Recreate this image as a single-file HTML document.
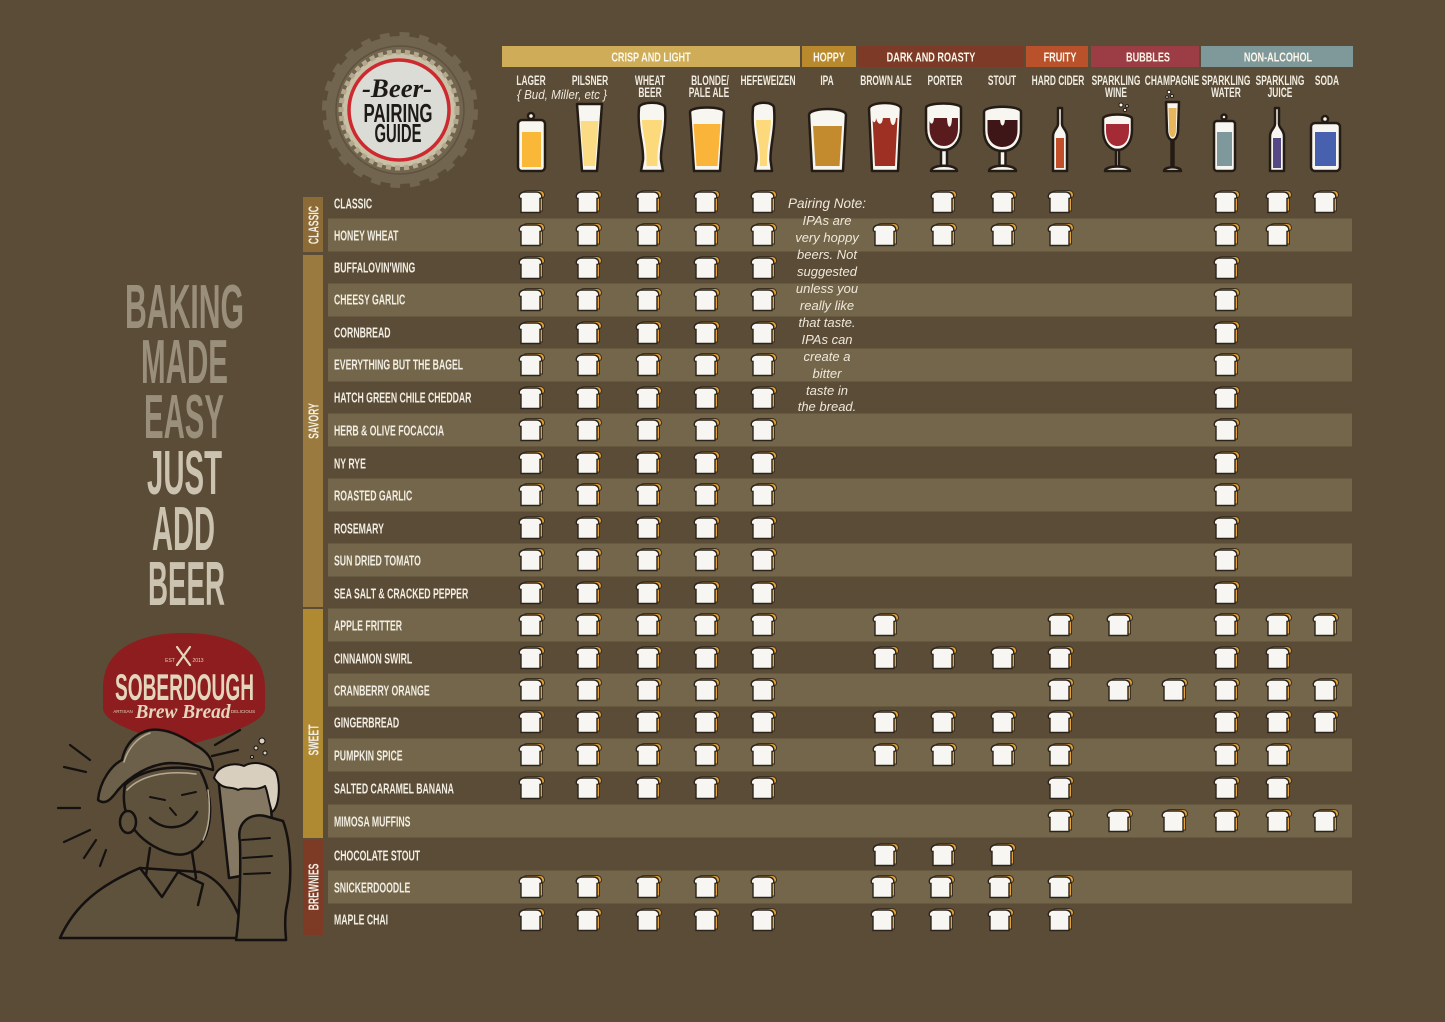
<!DOCTYPE html>
<html><head><meta charset="utf-8"><style>
html,body{margin:0;padding:0;background:#5a4c37;}
svg{display:block;}
.h{font-family:"Liberation Sans",sans-serif;font-weight:bold;font-size:14px;fill:#f0ebe0;text-anchor:middle;}
.r{font-family:"Liberation Sans",sans-serif;font-weight:bold;font-size:15px;fill:#f2ede2;}
.c{font-family:"Liberation Sans",sans-serif;font-weight:bold;font-size:13px;fill:#fbf6ea;text-anchor:middle;}
.n{font-family:"Liberation Sans",sans-serif;font-style:italic;font-size:13px;fill:#efe8da;text-anchor:middle;}
.big{font-family:"Liberation Sans",sans-serif;font-weight:bold;font-size:62px;}
.gl{stroke:#241c14;stroke-width:2.5;stroke-linejoin:round;}
</style></head><body>
<svg width="1445" height="1022" viewBox="0 0 1445 1022" xmlns="http://www.w3.org/2000/svg">
<defs>
<g id="br">
<path d="M-6.5,-4.5 C-9.5,-4.5 -9.5,-11.5 -3.5,-11.5 L8.5,-11.5 C14.5,-11.5 14.5,-4.5 11.5,-4.5 L11.5,9 L-6.5,9 Z" fill="#e3a23a" stroke="#3b2f20" stroke-width="1"/>
<path d="M-10,-3.5 C-13,-3.5 -12.5,-10 -6,-10 L5,-10 C11.5,-10 12,-3.5 9,-3.5 L9,10.5 L-10,10.5 Z" fill="#f7f6f2" stroke="#2c241a" stroke-width="1.4"/>
</g>
<g id="c5">
<use href="#br" x="531"/><use href="#br" x="588"/><use href="#br" x="648"/><use href="#br" x="706"/><use href="#br" x="763"/>
</g>
</defs>
<rect width="1445" height="1022" fill="#5a4c37"/>

<!-- row bands -->
<g fill="#73664a">
<rect x="328" y="218.5" width="1024" height="33"/>
<rect x="328" y="283.5" width="1024" height="33"/>
<rect x="328" y="348.5" width="1024" height="33"/>
<rect x="328" y="413.5" width="1024" height="33"/>
<rect x="328" y="478.5" width="1024" height="33"/>
<rect x="328" y="543.5" width="1024" height="33"/>
<rect x="328" y="608.5" width="1024" height="33"/>
<rect x="328" y="673.5" width="1024" height="33"/>
<rect x="328" y="738.5" width="1024" height="33"/>
<rect x="328" y="804.5" width="1024" height="33"/>
<rect x="328" y="870.5" width="1024" height="33"/>
</g>

<!-- sidebars -->
<rect x="303" y="197" width="20" height="55" fill="#8c6b37"/>
<rect x="303" y="255" width="20" height="352" fill="#9a7a3e"/>
<rect x="303" y="609" width="20" height="229" fill="#b08a33"/>
<rect x="303" y="840" width="20" height="95" fill="#7d3b26"/>
<g class="r" fill="#f4efe4" text-anchor="middle" style="text-anchor:middle">
<text transform="translate(318.5,225) rotate(-90) scale(0.58,1)">CLASSIC</text>
<text transform="translate(318.5,421) rotate(-90) scale(0.58,1)">SAVORY</text>
<text transform="translate(318.5,740) rotate(-90) scale(0.58,1)">SWEET</text>
<text transform="translate(318.5,887) rotate(-90) scale(0.58,1)">BREWNIES</text>
</g>

<!-- row labels -->
<g class="r">
<text transform="translate(334,208.5) scale(0.58,1)">CLASSIC</text>
<text transform="translate(334,240.5) scale(0.58,1)">HONEY WHEAT</text>
<text transform="translate(334,272.5) scale(0.58,1)">BUFFALOVIN'WING</text>
<text transform="translate(334,304.5) scale(0.58,1)">CHEESY GARLIC</text>
<text transform="translate(334,337.5) scale(0.58,1)">CORNBREAD</text>
<text transform="translate(334,369.5) scale(0.58,1)">EVERYTHING BUT THE BAGEL</text>
<text transform="translate(334,402.5) scale(0.58,1)">HATCH GREEN CHILE CHEDDAR</text>
<text transform="translate(334,435.5) scale(0.58,1)">HERB &amp; OLIVE FOCACCIA</text>
<text transform="translate(334,468.5) scale(0.58,1)">NY RYE</text>
<text transform="translate(334,500.5) scale(0.58,1)">ROASTED GARLIC</text>
<text transform="translate(334,533.5) scale(0.58,1)">ROSEMARY</text>
<text transform="translate(334,565.5) scale(0.58,1)">SUN DRIED TOMATO</text>
<text transform="translate(334,598.5) scale(0.58,1)">SEA SALT &amp; CRACKED PEPPER</text>
<text transform="translate(334,630.5) scale(0.58,1)">APPLE FRITTER</text>
<text transform="translate(334,663.5) scale(0.58,1)">CINNAMON SWIRL</text>
<text transform="translate(334,695.5) scale(0.58,1)">CRANBERRY ORANGE</text>
<text transform="translate(334,727.5) scale(0.58,1)">GINGERBREAD</text>
<text transform="translate(334,760.5) scale(0.58,1)">PUMPKIN SPICE</text>
<text transform="translate(334,793.5) scale(0.58,1)">SALTED CARAMEL BANANA</text>
<text transform="translate(334,826.5) scale(0.58,1)">MIMOSA MUFFINS</text>
<text transform="translate(334,860.5) scale(0.58,1)">CHOCOLATE STOUT</text>
<text transform="translate(334,892.5) scale(0.58,1)">SNICKERDOODLE</text>
<text transform="translate(334,924.5) scale(0.58,1)">MAPLE CHAI</text>
</g>

<!-- category bars -->
<rect x="502" y="46" width="298" height="21" fill="#cfad58"/>
<rect x="802" y="46" width="54" height="21" fill="#b98a2d"/>
<rect x="857" y="46" width="167" height="21" fill="#7c3a27"/>
<rect x="1026" y="46" width="62" height="21" fill="#b9512b"/>
<rect x="1091" y="46" width="108" height="21" fill="#9c3d45"/>
<rect x="1201" y="46" width="152" height="21" fill="#7f999b"/>
<g class="c">
<text transform="translate(651,61.5) scale(0.7,1)">CRISP AND LIGHT</text>
<text transform="translate(829,61.5) scale(0.7,1)">HOPPY</text>
<text transform="translate(931,61.5) scale(0.7,1)">DARK AND ROASTY</text>
<text transform="translate(1060,61.5) scale(0.7,1)">FRUITY</text>
<text transform="translate(1148,61.5) scale(0.7,1)">BUBBLES</text>
<text transform="translate(1278,61.5) scale(0.7,1)">NON-ALCOHOL</text>
</g>

<!-- column headers -->
<g class="h">
<text transform="translate(531,85) scale(0.6,1)">LAGER</text>
<text transform="translate(590,85) scale(0.6,1)">PILSNER</text>
<text transform="translate(650,85) scale(0.6,1)">WHEAT</text>
<text transform="translate(650,97) scale(0.6,1)">BEER</text>
<text transform="translate(710,85) scale(0.6,1)">BLONDE/</text>
<text transform="translate(709,97) scale(0.6,1)">PALE ALE</text>
<text transform="translate(768,85) scale(0.6,1)">HEFEWEIZEN</text>
<text transform="translate(827,85) scale(0.6,1)">IPA</text>
<text transform="translate(886,85) scale(0.6,1)">BROWN ALE</text>
<text transform="translate(945,85) scale(0.6,1)">PORTER</text>
<text transform="translate(1002,85) scale(0.6,1)">STOUT</text>
<text transform="translate(1058,85) scale(0.6,1)">HARD CIDER</text>
<text transform="translate(1116,85) scale(0.6,1)">SPARKLING</text>
<text transform="translate(1116,97) scale(0.6,1)">WINE</text>
<text transform="translate(1172,85) scale(0.6,1)">CHAMPAGNE</text>
<text transform="translate(1226,85) scale(0.6,1)">SPARKLING</text>
<text transform="translate(1226,97) scale(0.6,1)">WATER</text>
<text transform="translate(1280,85) scale(0.6,1)">SPARKLING</text>
<text transform="translate(1280,97) scale(0.6,1)">JUICE</text>
<text transform="translate(1327,85) scale(0.6,1)">SODA</text>
</g>
<text x="562" y="99" class="n" style="font-size:13px" textLength="90" lengthAdjust="spacingAndGlyphs">{ Bud, Miller, etc }</text>

<!-- glasses -->
<g class="gl">
<circle cx="531" cy="116" r="3" fill="#f8f6f0"/>
<rect x="518" y="120" width="27" height="51" rx="4" fill="#f8f6f0"/>
<rect x="522" y="132" width="19" height="35" fill="#f9b838" stroke="none"/>
<path d="M577,104 L602,104 L597,171 L582,171 Z" fill="#f8f6f0"/>
<path d="M580.5,121 L598.5,121 L595,166 L584,166 Z" fill="#fbdc84" stroke="none"/>
<path d="M639,108 C637,130 644,145 643,160 L641,171 L663,171 L661,160 C660,145 667,130 665,108 C665,101 639,101 639,108 Z" fill="#f8f6f0"/>
<path d="M642,120 L662,120 C662,132 657,145 657.5,160 L657.5,166 L646.5,166 L646.5,160 C647,145 642,132 642,120 Z" fill="#fcd97a" stroke="none"/>
<path d="M690,112 C690,106 724,106 724,112 L720,171 L694,171 Z" fill="#f8f6f0"/>
<path d="M693.5,124 L720.5,124 L717.5,166 L696.5,166 Z" fill="#fbb43a" stroke="none"/>
<path d="M753,108 C751,130 757,145 756.5,160 L755,171 L772,171 L770.5,160 C770,145 776,130 774,108 C774,101 753,101 753,108 Z" fill="#f8f6f0"/>
<path d="M756,120 L771,120 C771,132 767,145 767,160 L767,166 L760,166 L760,160 C760,145 756,132 756,120 Z" fill="#fcd97a" stroke="none"/>
<path d="M809,115 C809,107 846,107 846,115 L843,171 L812,171 Z" fill="#f8f6f0"/>
<path d="M813,126 L842,126 L839.5,166 L815.5,166 Z" fill="#c48b2e" stroke="none"/>
<path d="M869,109 C869,101 901,101 901,109 L898,171 L872,171 Z" fill="#f8f6f0"/>
<path d="M872.5,118 L897.5,118 L895,166 L875,166 Z" fill="#9d3022" stroke="none"/>
<path d="M872,116 C872,124 876,124 876,118 C878,126 883,126 883,116 Z M890,116 C890,128 896,128 896,116 Z" fill="#f8f6f0" stroke="none"/>
<path d="M926,108 C926,102 961,102 961,108 L961,128 C961,143 952,150 944,150 C935,150 926,143 926,128 Z" fill="#f8f6f0"/>
<path d="M929.5,118 L958,118 L958,128 C958,140 951,146 944,146 C936,146 929.5,140 929.5,128 Z" fill="#5a1b1f" stroke="none"/>
<path d="M929,116 C929,126 934,126 934,117 L947,117 C947,130 952,130 952,117 L958,116 Z" fill="#f8f6f0" stroke="none"/>
<path d="M941,150 L947,150 L947,166 L941,166 Z" fill="#f8f6f0"/>
<path d="M931,171 C931,164 957,164 957,171 Z" fill="#f8f6f0"/>
<path d="M984,112 C984,105 1021,105 1021,112 L1021,130 C1021,145 1012,151 1002.5,151 C993,151 984,145 984,130 Z" fill="#f8f6f0"/>
<path d="M987.5,120 L1017.5,120 L1017.5,130 C1017.5,142 1010,147 1002.5,147 C995,147 987.5,142 987.5,130 Z" fill="#3e1618" stroke="none"/>
<path d="M987,118 L1000,118 C1000,128 1005,128 1005,118 L1018,118 L1018,116 L987,116 Z" fill="#f8f6f0" stroke="none"/>
<path d="M999.5,151 L1005.5,151 L1005.5,166 L999.5,166 Z" fill="#f8f6f0"/>
<path d="M989,171 C989,164 1016,164 1016,171 Z" fill="#f8f6f0"/>
<path d="M1058,108 L1062,108 L1062,124 C1062,128 1067,130 1067,136 L1067,171 L1053,171 L1053,136 C1053,130 1058,128 1058,124 Z" fill="#f8f6f0"/>
<path d="M1056,138 L1064,138 L1064,168 L1056,168 Z" fill="#c1502a" stroke="none"/>
<path d="M1103,119 C1103,113 1132,113 1132,119 L1132,130 C1132,143 1125,150 1117.5,150 C1110,150 1103,143 1103,130 Z" fill="#f8f6f0"/>
<path d="M1106,124 L1129,124 L1129,130 C1129,141 1124,146 1117.5,146 C1111,146 1106,141 1106,130 Z" fill="#a42a36" stroke="none"/>
<path d="M1116,150 L1119,150 L1119,167 L1116,167 Z" fill="#f8f6f0"/>
<path d="M1105,171 C1105,165 1130,165 1130,171 Z" fill="#f8f6f0"/>
<path d="M1166,102 L1179,102 L1178,132 C1177,138 1175,140 1172.5,140 C1170,140 1168,138 1167,132 Z" fill="#f8f6f0"/>
<path d="M1168.5,108 L1176.5,108 L1175.8,132 C1175,136 1174,137 1172.5,137 C1171,137 1170,136 1169.2,132 Z" fill="#e6b55c" stroke="none"/>
<path d="M1171.5,140 L1173.5,140 L1173.5,168 L1171.5,168 Z" fill="#f8f6f0"/>
<path d="M1164,171 C1164,166 1181,166 1181,171 Z" fill="#f8f6f0"/>
<circle cx="1224" cy="117" r="2.5" fill="#f8f6f0"/>
<rect x="1214" y="121" width="21" height="50" rx="3" fill="#f8f6f0"/>
<rect x="1217" y="132" width="15" height="34" fill="#7f989c" stroke="none"/>
<path d="M1275,108 L1279,108 L1279,124 C1279,128 1284,130 1284,136 L1284,171 L1270,171 L1270,136 C1270,130 1275,128 1275,124 Z" fill="#f8f6f0"/>
<path d="M1273,138 L1281,138 L1281,168 L1273,168 Z" fill="#564986" stroke="none"/>
<circle cx="1325" cy="119" r="3" fill="#f8f6f0"/>
<rect x="1311" y="123" width="29" height="48" rx="4" fill="#f8f6f0"/>
<rect x="1315" y="132" width="21" height="34" fill="#4861ae" stroke="none"/>
</g>
<g fill="#f8f6f0" stroke="#241c14" stroke-width="1">
<circle cx="1121" cy="105" r="2"/><circle cx="1125" cy="110" r="1.6"/><circle cx="1127" cy="106" r="1.4"/>
<circle cx="1169" cy="92" r="1.8"/><circle cx="1172" cy="96" r="1.5"/><circle cx="1167" cy="97" r="1.3"/>
</g>

<!-- bottle cap logo -->
<circle cx="400" cy="110" r="74" fill="#716550"/>
<circle cx="400" cy="110" r="75" fill="none" stroke="#716550" stroke-width="6" stroke-dasharray="9.8 9.8"/>
<circle cx="400" cy="110" r="64" fill="none" stroke="#5f533f" stroke-width="1.5"/>
<circle cx="399" cy="110" r="57" fill="#c9c0a8"/>
<circle cx="399" cy="110" r="58" fill="none" stroke="#b3a88c" stroke-width="5" stroke-dasharray="5 4"/>
<circle cx="399" cy="110" r="50" fill="#dcdcd6" stroke="#cc2a2f" stroke-width="3.5"/>
<text x="397" y="97" textLength="70" lengthAdjust="spacingAndGlyphs" style="font-family:'Liberation Serif',serif;font-style:italic;font-weight:bold;font-size:26px;fill:#1d1a17;text-anchor:middle">-Beer-</text>
<text x="398" y="122" textLength="69" lengthAdjust="spacingAndGlyphs" style="font-family:'Liberation Sans',sans-serif;font-weight:bold;font-size:26px;fill:#1d1a17;text-anchor:middle">PAIRING</text>
<text x="398" y="142" textLength="47" lengthAdjust="spacingAndGlyphs" style="font-family:'Liberation Sans',sans-serif;font-weight:bold;font-size:26px;fill:#1d1a17;text-anchor:middle">GUIDE</text>

<!-- left slogan -->
<g class="big">
<text x="125" y="328" textLength="119" lengthAdjust="spacingAndGlyphs" fill="#9a8f7b">BAKING</text>
<text x="141" y="383" textLength="87" lengthAdjust="spacingAndGlyphs" fill="#9a8f7b">MADE</text>
<text x="144" y="438" textLength="80" lengthAdjust="spacingAndGlyphs" fill="#9a8f7b">EASY</text>
<text x="147" y="494" textLength="75" lengthAdjust="spacingAndGlyphs" fill="#cbc3b0">JUST</text>
<text x="152" y="550" textLength="63" lengthAdjust="spacingAndGlyphs" fill="#cbc3b0">ADD</text>
<text x="148" y="605" textLength="77" lengthAdjust="spacingAndGlyphs" fill="#cbc3b0">BEER</text>
</g>

<!-- soberdough badge -->
<path d="M103,688 C103,648 140,633 184,633 C228,633 265,648 265,688 L265,708 C265,724 222,736 184,746 C146,736 103,724 103,708 Z" fill="#8e1d1f"/>
<g stroke="#e4d6bc" stroke-width="2.2" stroke-linecap="round">
<line x1="177" y1="647" x2="190" y2="665"/><line x1="190" y1="647" x2="177" y2="665"/>
</g>
<text x="170" y="662" style="font-family:'Liberation Sans',sans-serif;font-size:5px;fill:#e4d6bc;text-anchor:middle">EST</text>
<text x="198" y="662" style="font-family:'Liberation Sans',sans-serif;font-size:5px;fill:#e4d6bc;text-anchor:middle">2013</text>
<text x="115" y="700" textLength="139" lengthAdjust="spacingAndGlyphs" style="font-family:'Liberation Sans',sans-serif;font-weight:bold;font-size:37px;fill:#e4d6bc">SOBERDOUGH</text>
<text x="183" y="718" textLength="95" lengthAdjust="spacingAndGlyphs" style="font-family:'Liberation Serif',serif;font-style:italic;font-weight:bold;font-size:20px;fill:#e4d6bc;text-anchor:middle">Brew Bread</text>
<text x="123" y="713" style="font-family:'Liberation Sans',sans-serif;font-size:4.5px;fill:#e4d6bc;text-anchor:middle">ARTISAN</text>
<text x="243" y="713" style="font-family:'Liberation Sans',sans-serif;font-size:4.5px;fill:#e4d6bc;text-anchor:middle">DELICIOUS</text>

<!-- man illustration (approximation) -->
<g stroke="#141110" stroke-width="2.5" stroke-linejoin="round" stroke-linecap="round">
<path d="M60,938 C75,905 100,885 140,868 L200,872 C222,880 238,905 246,938 Z" fill="#5f523d"/>
<path d="M140,868 L162,897 L178,872 L203,884 L198,905" fill="none"/>
<path d="M150,848 L146,875 M192,852 L196,878" fill="none"/>
<path d="M125,785 C140,770 170,764 200,770 C211,790 213,815 206,835 C199,851 185,858 170,853 C155,849 140,839 132,826 C125,815 122,800 125,785 Z" fill="#5f523d"/>
<ellipse cx="128" cy="822" rx="8" ry="11" fill="#5f523d"/>
<path d="M98,800 C100,780 112,765 122,760 C125,745 135,733 150,730 C165,728 180,735 195,745 C205,750 213,758 213,770 C200,766 185,763 170,763 C150,764 130,776 118,790 C112,798 106,806 98,800 Z" fill="#6d604a"/>
<path d="M150,818 C165,832 186,830 197,812" fill="none"/>
<path d="M150,797 L165,800 M182,795 L196,792 M170,808 L176,815" fill="none" stroke-width="2"/>
<path d="M218,776 L268,771 L276,870 L229,878 Z" fill="#857862"/>
<path d="M214,778 C217,765 234,762 244,766 C254,760 270,764 276,772 C281,785 279,808 272,812 C268,800 268,792 265,786 C255,792 245,786 238,790 C230,785 224,792 214,778 Z" fill="#d8cfbe" stroke-width="2"/>
<path d="M240,842 C236,822 250,813 265,816 L283,821 C291,842 293,880 286,910 C284,925 286,935 286,940 L236,940 C239,920 241,880 240,842 Z" fill="#5f523d"/>
<path d="M242,840 L270,838 M243,858 L272,856 M244,874 L270,873" fill="none" stroke-width="2"/>
<path d="M70,745 L90,760 M64,767 L86,772 M58,808 L80,808 M64,842 L90,830 M84,858 L96,840 M100,866 L106,850 M215,745 L240,730 M212,756 L238,750" fill="none" stroke-width="2.2"/>
</g>
<g fill="none" stroke="#b5aa92" stroke-width="1.5" stroke-linecap="round">
<path d="M124,762 C128,748 138,737 150,733"/>
<path d="M127,790 C140,776 165,770 196,774"/>
<path d="M208,790 C211,810 209,828 203,840"/>
</g>
<g fill="#d8cfbe" stroke="#141110" stroke-width="1">
<circle cx="262" cy="741" r="3"/><circle cx="256" cy="748" r="2"/><circle cx="265" cy="753" r="2"/><circle cx="252" cy="757" r="1.5"/>
</g>

<!-- pairing note -->
<text x="827" y="208" class="n" style="font-size:14px" textLength="78" lengthAdjust="spacingAndGlyphs">Pairing Note:</text>
<g class="n">
<text x="827" y="225">IPAs are</text>
<text x="827" y="242">very hoppy</text>
<text x="827" y="259">beers. Not</text>
<text x="827" y="276">suggested</text>
<text x="827" y="293">unless you</text>
<text x="827" y="310">really like</text>
<text x="827" y="327">that taste.</text>
<text x="827" y="344">IPAs can</text>
<text x="827" y="361">create a</text>
<text x="827" y="378">bitter</text>
<text x="827" y="395">taste in</text>
<text x="827" y="411">the bread.</text>
</g>

<!-- bread icons -->
<use href="#c5" y="202"/>
<use href="#br" x="943" y="202"/><use href="#br" x="1003" y="202"/><use href="#br" x="1060" y="202"/><use href="#br" x="1226" y="202"/><use href="#br" x="1278" y="202"/><use href="#br" x="1325" y="202"/>
<use href="#c5" y="235"/>
<use href="#br" x="885" y="235"/><use href="#br" x="943" y="235"/><use href="#br" x="1003" y="235"/><use href="#br" x="1060" y="235"/><use href="#br" x="1226" y="235"/><use href="#br" x="1278" y="235"/>
<use href="#c5" y="268"/><use href="#br" x="1226" y="268"/>
<use href="#c5" y="300"/><use href="#br" x="1226" y="300"/>
<use href="#c5" y="333"/><use href="#br" x="1226" y="333"/>
<use href="#c5" y="365"/><use href="#br" x="1226" y="365"/>
<use href="#c5" y="398"/><use href="#br" x="1226" y="398"/>
<use href="#c5" y="430"/><use href="#br" x="1226" y="430"/>
<use href="#c5" y="463"/><use href="#br" x="1226" y="463"/>
<use href="#c5" y="495"/><use href="#br" x="1226" y="495"/>
<use href="#c5" y="528"/><use href="#br" x="1226" y="528"/>
<use href="#c5" y="560"/><use href="#br" x="1226" y="560"/>
<use href="#c5" y="593"/><use href="#br" x="1226" y="593"/>
<use href="#c5" y="625"/>
<use href="#br" x="885" y="625"/><use href="#br" x="1060" y="625"/><use href="#br" x="1119" y="625"/><use href="#br" x="1226" y="625"/><use href="#br" x="1278" y="625"/><use href="#br" x="1325" y="625"/>
<use href="#c5" y="658"/>
<use href="#br" x="885" y="658"/><use href="#br" x="943" y="658"/><use href="#br" x="1003" y="658"/><use href="#br" x="1060" y="658"/><use href="#br" x="1226" y="658"/><use href="#br" x="1278" y="658"/>
<use href="#c5" y="690"/>
<use href="#br" x="1060" y="690"/><use href="#br" x="1119" y="690"/><use href="#br" x="1174" y="690"/><use href="#br" x="1226" y="690"/><use href="#br" x="1278" y="690"/><use href="#br" x="1325" y="690"/>
<use href="#c5" y="722"/>
<use href="#br" x="885" y="722"/><use href="#br" x="943" y="722"/><use href="#br" x="1003" y="722"/><use href="#br" x="1060" y="722"/><use href="#br" x="1226" y="722"/><use href="#br" x="1278" y="722"/><use href="#br" x="1325" y="722"/>
<use href="#c5" y="755"/>
<use href="#br" x="885" y="755"/><use href="#br" x="943" y="755"/><use href="#br" x="1003" y="755"/><use href="#br" x="1060" y="755"/><use href="#br" x="1226" y="755"/><use href="#br" x="1278" y="755"/>
<use href="#c5" y="788"/>
<use href="#br" x="1060" y="788"/><use href="#br" x="1226" y="788"/><use href="#br" x="1278" y="788"/>
<use href="#br" x="1060" y="821"/><use href="#br" x="1119" y="821"/><use href="#br" x="1174" y="821"/><use href="#br" x="1226" y="821"/><use href="#br" x="1278" y="821"/><use href="#br" x="1325" y="821"/>
<use href="#br" x="885" y="855"/><use href="#br" x="943" y="855"/><use href="#br" x="1002" y="855"/>
<use href="#c5" y="887"/>
<use href="#br" x="883" y="887"/><use href="#br" x="941" y="887"/><use href="#br" x="1000" y="887"/><use href="#br" x="1060" y="887"/>
<use href="#c5" y="920"/>
<use href="#br" x="883" y="920"/><use href="#br" x="941" y="920"/><use href="#br" x="1000" y="920"/><use href="#br" x="1060" y="920"/>
</svg>
</body></html>
